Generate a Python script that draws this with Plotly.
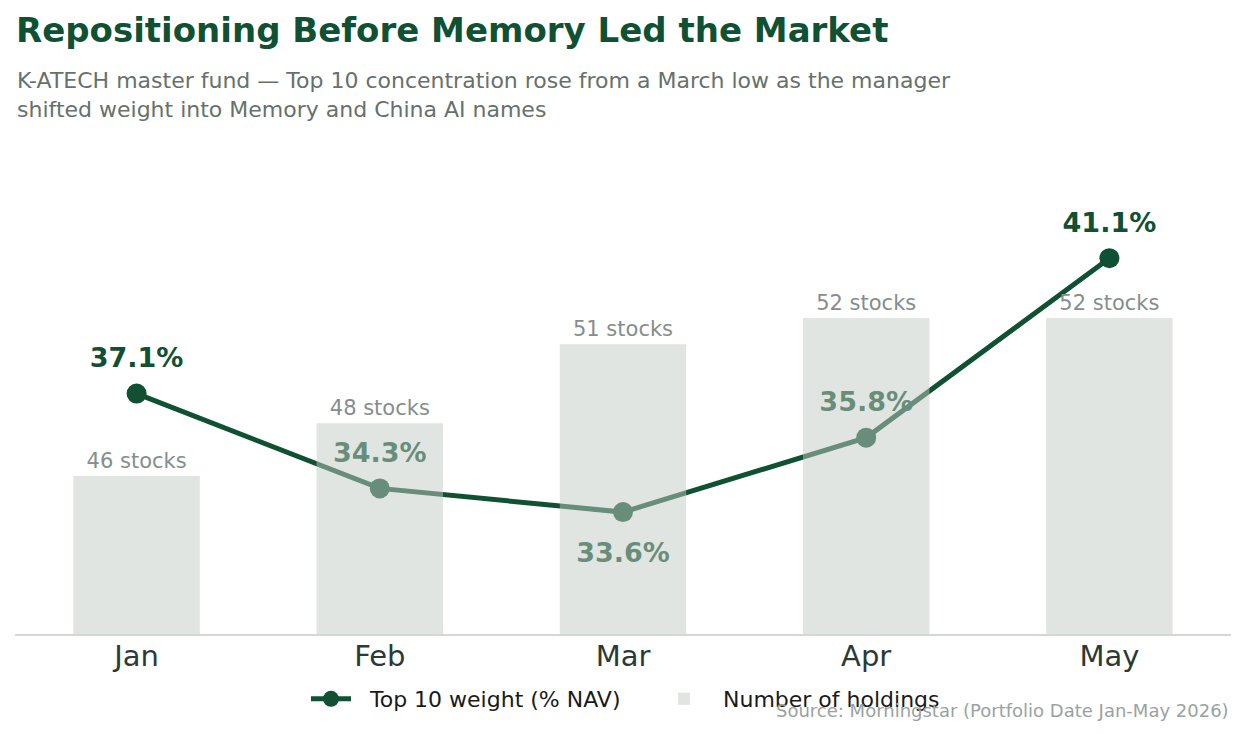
import plotly.graph_objects as go

months = ['Jan', 'Feb', 'Mar', 'Apr', 'May']
top10_weight = [37.1, 34.3, 33.6, 35.8, 41.1]
holdings = [46, 48, 51, 52, 52]
weight_labels = ['37.1%', '34.3%', '33.6%', '35.8%', '41.1%']
holding_labels = ['46 stocks', '48 stocks', '51 stocks', '52 stocks', '52 stocks']
label_pos = ['top center', 'top center', 'bottom center', 'top center', 'top center']

DARK = '#0f5132'
FONT = 'DejaVu Sans'

fig = go.Figure()

# line first (bottom layer), bars on the overlaying axis sit on top of it
fig.add_trace(go.Scatter(
    x=months, y=top10_weight, name='\u00a0\u00a0Top 10 weight (% NAV)',
    mode='lines+markers',
    line=dict(color=DARK, width=5),
    marker=dict(color=DARK, size=20),
    yaxis='y', cliponaxis=False,
))

# invisible big markers just to push the % labels away from the points
pad_sizes = [30 if p.startswith('top') else 46 for p in label_pos]
fig.add_trace(go.Scatter(
    x=months, y=top10_weight, mode='markers+text',
    text=weight_labels, textposition=label_pos,
    textfont=dict(family=FONT, size=27, color=DARK, weight='bold'),
    marker=dict(size=pad_sizes, color='rgba(0,0,0,0)',
                line=dict(width=0, color='rgba(0,0,0,0)')),
    showlegend=False, hoverinfo='skip', yaxis='y', cliponaxis=False,
))

fig.add_trace(go.Bar(
    x=months, y=holdings, name='\u00a0\u00a0Number of holdings',
    marker=dict(color='rgba(193,203,195,0.5)', line=dict(width=0)),
    text=holding_labels, textposition='outside',
    textfont=dict(family=FONT, size=21, color='#858e8a'),
    yaxis='y2', cliponaxis=False,
))

fig.update_layout(
    width=1245, height=734,
    paper_bgcolor='white', plot_bgcolor='white',
    margin=dict(l=7, r=22, t=152, b=108),
    font=dict(family=FONT, color='#2b3a33'),
    bargap=0.48,
    title=dict(
        text='<b>Repositioning Before Memory Led the Market</b>',
        font=dict(family=FONT, size=34, color=DARK),
        x=8 / 1245, xref='container', xanchor='left',
        y=1 - 22 / 734, yref='container', yanchor='middle',
    ),
    xaxis=dict(
        showgrid=False, showline=True, linecolor='#d3d8d5', linewidth=2,
        ticks='', tickfont=dict(family=FONT, size=29, color='#2b3a33'),
        ticklabelstandoff=-5,
        range=[-0.5, 4.5],
    ),
    yaxis=dict(range=[30, 44], visible=False, showgrid=False, fixedrange=True),
    yaxis2=dict(range=[40, 58], visible=False, showgrid=False,
                overlaying='y', side='right'),
    legend=dict(
        orientation='h', x=0.5296, xanchor='center', y=-44 / 474, yanchor='top',
        font=dict(family=FONT, size=22, color='#1a1a1a'),
        itemwidth=40, entrywidth=298,
    ),
    annotations=[
        dict(
            text='K-ATECH master fund — Top 10 concentration rose from a March low as the manager<br>'
                 'shifted weight into Memory and China AI names',
            xref='paper', yref='paper', x=0, y=(626 - 58) / 474,
            xanchor='left', yanchor='top', align='left', showarrow=False,
            font=dict(family=FONT, size=22, color='#66716c'),
        ),
        dict(
            text='Source: Morningstar (Portfolio Date Jan-May 2026)',
            xref='paper', yref='paper', x=1, y=-76 / 474,
            xanchor='right', yanchor='middle', showarrow=False,
            font=dict(family=FONT, size=18, color='#9aa29f'),
        ),
    ],
)

fig.write_html('out.html')
